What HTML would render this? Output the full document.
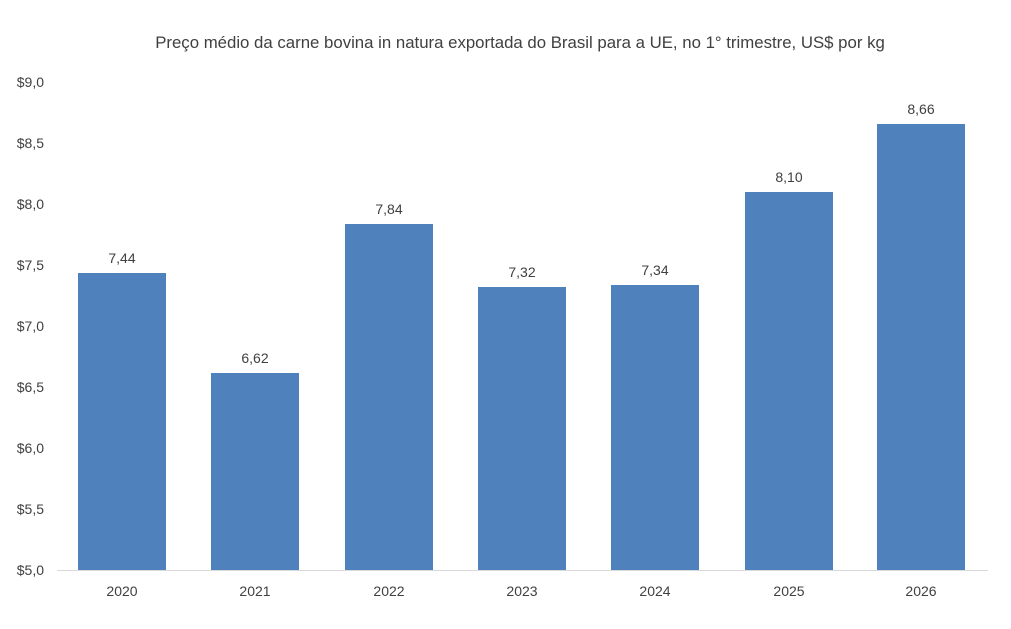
<!DOCTYPE html>
<html><head><meta charset="utf-8"><style>
body{margin:0;background:#fff}
svg{display:block}
text{font-family:"Liberation Sans",sans-serif;fill:#404040}
</style></head><body>
<svg width="1011" height="629" viewBox="0 0 1011 629">
<text x="520" y="48" text-anchor="middle" font-size="16.8">Preço médio da carne bovina in natura exportada do Brasil para a UE, no 1° trimestre, US$ por kg</text>
<g font-size="14" text-anchor="end">
<text x="44" y="87">$9,0</text>
<text x="44" y="148">$8,5</text>
<text x="44" y="209">$8,0</text>
<text x="44" y="270">$7,5</text>
<text x="44" y="331">$7,0</text>
<text x="44" y="392">$6,5</text>
<text x="44" y="453">$6,0</text>
<text x="44" y="514">$5,5</text>
<text x="44" y="575">$5,0</text>
</g>
<g fill="#4f81bd">
<rect x="78" y="273" width="88" height="297"/>
<rect x="211" y="373" width="88" height="197"/>
<rect x="345" y="224" width="88" height="346"/>
<rect x="478" y="287" width="88" height="283"/>
<rect x="611" y="285" width="88" height="285"/>
<rect x="745" y="192" width="88" height="378"/>
<rect x="877" y="124" width="88" height="446"/>
</g>
<line x1="57" y1="570.5" x2="988" y2="570.5" stroke="#d9d9d9" stroke-width="1"/>
<g font-size="14" text-anchor="middle">
<text x="122" y="263">7,44</text>
<text x="255" y="363">6,62</text>
<text x="389" y="214">7,84</text>
<text x="522" y="277">7,32</text>
<text x="655" y="275">7,34</text>
<text x="789" y="182">8,10</text>
<text x="921" y="114">8,66</text>
<text x="122" y="596">2020</text>
<text x="255" y="596">2021</text>
<text x="389" y="596">2022</text>
<text x="522" y="596">2023</text>
<text x="655" y="596">2024</text>
<text x="789" y="596">2025</text>
<text x="921" y="596">2026</text>
</g>
</svg>
</body></html>
